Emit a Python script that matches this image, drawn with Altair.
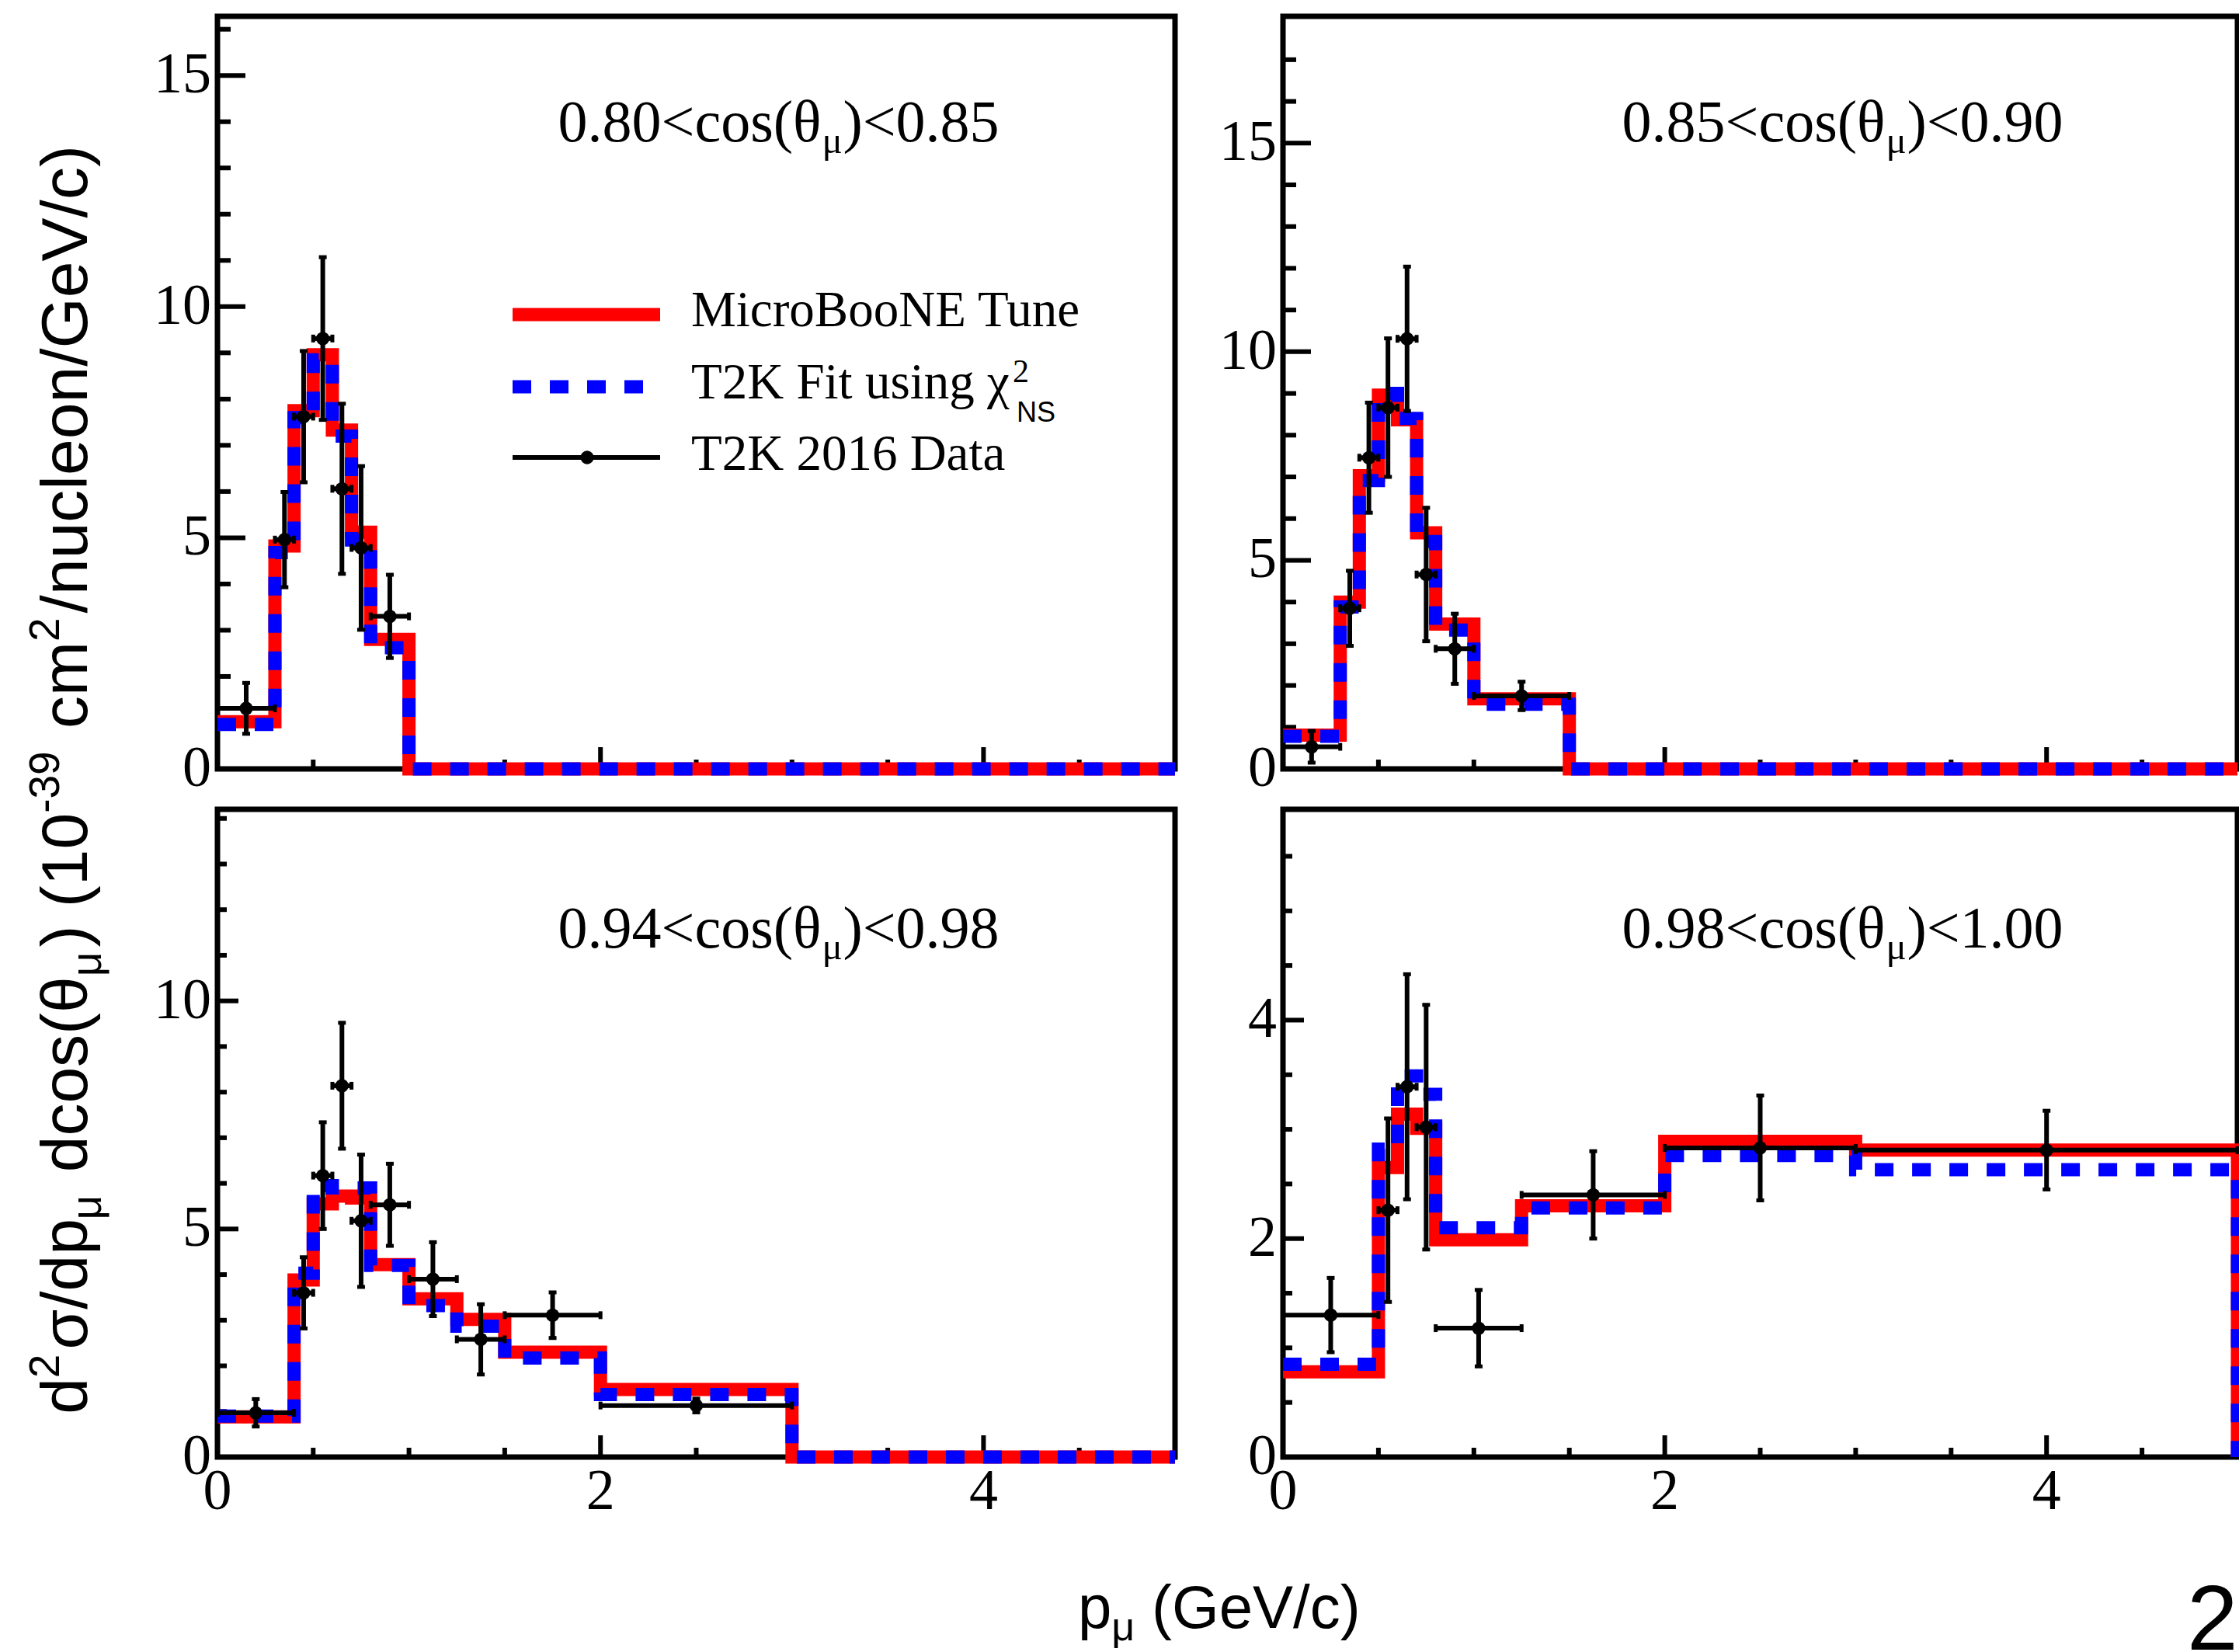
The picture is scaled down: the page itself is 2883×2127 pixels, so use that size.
import altair as alt
import pandas as pd

# ---------------- values ----------------
P_MAX = 5.0

# panel A : 0.80 < cos < 0.85
a_edges = [0.0, 0.3, 0.4, 0.5, 0.6, 0.7, 0.8, 1.0]
a_tune = [1.02, 4.82, 7.75, 8.96, 7.33, 5.12, 2.80, 0.0]
a_fit = [0.96, 4.68, 7.60, 8.85, 7.20, 4.95, 2.62, 0.0]
a_dlo = [0.0, 0.3, 0.4, 0.5, 0.6, 0.7, 0.8]
a_dhi = [0.3, 0.4, 0.5, 0.6, 0.7, 0.8, 1.0]
a_dval = [1.31, 4.96, 7.62, 9.31, 6.06, 4.78, 3.30]
a_derr = [0.55, 1.03, 1.42, 1.76, 1.84, 1.77, 0.90]

# panel B : 0.85 < cos < 0.90
b_edges = [0.0, 0.3, 0.4, 0.5, 0.6, 0.7, 0.8, 1.0, 1.5]
b_tune = [0.81, 4.00, 7.03, 8.96, 8.37, 5.66, 3.47, 1.68, 0.0]
b_fit = [0.78, 3.88, 6.91, 9.00, 8.40, 5.45, 3.33, 1.55, 0.0]
b_dlo = [0.0, 0.3, 0.4, 0.5, 0.6, 0.7, 0.8, 1.0]
b_dhi = [0.3, 0.4, 0.5, 0.6, 0.7, 0.8, 1.0, 1.5]
b_dval = [0.53, 3.85, 7.46, 8.66, 10.31, 4.66, 2.88, 1.75]
b_derr = [0.38, 0.90, 1.32, 1.66, 1.73, 1.60, 0.84, 0.34]

# panel C : 0.94 < cos < 0.98
c_edges = [0.0, 0.4, 0.5, 0.6, 0.7, 0.8, 1.0, 1.25, 1.5, 2.0, 3.0]
c_tune = [0.88, 3.88, 5.55, 5.72, 5.68, 4.22, 3.47, 3.02, 2.30, 1.48, 0.0]
c_fit = [0.90, 4.03, 5.95, 5.90, 5.90, 4.20, 3.32, 2.87, 2.17, 1.37, 0.0]
c_dlo = [0.0, 0.4, 0.5, 0.6, 0.7, 0.8, 1.0, 1.25, 1.5, 2.0]
c_dhi = [0.4, 0.5, 0.6, 0.7, 0.8, 1.0, 1.25, 1.5, 2.0, 3.0]
c_dval = [0.97, 3.60, 6.17, 8.14, 5.18, 5.53, 3.90, 2.58, 3.11, 1.13]
c_derr = [0.30, 0.78, 1.17, 1.38, 1.45, 0.90, 0.81, 0.77, 0.50, 0.15]

# panel D : 0.98 < cos < 1.00
d_edges = [0.0, 0.5, 0.6, 0.7, 0.8, 1.25, 2.0, 3.0]
d_tune = [0.78, 2.65, 3.14, 3.01, 1.99, 2.30, 2.89, 2.81]
d_fit = [0.85, 2.82, 3.49, 3.32, 2.10, 2.28, 2.76, 2.63]
d_dlo = [0.0, 0.5, 0.6, 0.7, 0.8, 1.25, 2.0, 3.0]
d_dhi = [0.5, 0.6, 0.7, 0.8, 1.25, 2.0, 3.0, 5.0]
d_dval = [1.30, 2.26, 3.39, 3.02, 1.18, 2.40, 2.83, 2.81]
d_derr = [0.34, 0.84, 1.03, 1.12, 0.35, 0.40, 0.48, 0.36]

# axis extents and ticks
a_ymax, b_ymax, c_ymax, d_ymax = 16.28, 18.04, 14.2, 5.93
a_ymaj = [0, 5, 10, 15]
a_ymin = [1, 2, 3, 4, 6, 7, 8, 9, 11, 12, 13, 14, 16]
b_ymaj = [0, 5, 10, 15]
b_ymin = [1, 2, 3, 4, 6, 7, 8, 9, 11, 12, 13, 14, 16, 17]
c_ymaj = [0, 5, 10]
c_ymin = [1, 2, 3, 4, 6, 7, 8, 9, 11, 12, 13, 14]
d_ymaj = [0, 2, 4]
d_ymin = [0.5, 1, 1.5, 2.5, 3, 3.5, 4.5, 5, 5.5]
x_maj = [0, 2, 4]
x_min = [0.5, 1, 1.5, 2.5, 3, 3.5, 4.5]

titles = [("0.80<cos(θ", ")<0.85"), ("0.85<cos(θ", ")<0.90"),
          ("0.94<cos(θ", ")<0.98"), ("0.98<cos(θ", ")<1.00")]
legend_labels = ["MicroBooNE Tune", "T2K Fit using χ", "T2K 2016 Data"]

SERIF = "Liberation Serif"
SANS = "Liberation Sans"
RED = "#ff0000"
BLUE = "#0000ff"

# approximate advance widths (per 1000 em) used only to place text pieces
TIMES_W = {'0': 500, '1': 500, '2': 500, '3': 500, '4': 500, '5': 500, '6': 500,
           '7': 500, '8': 500, '9': 500, '.': 250, '<': 564, 'c': 444, 'o': 500,
           's': 389, '(': 333, ')': 333, 'θ': 500, 'μ': 550}
ARIAL_W = {'d': 556, 'σ': 600, '/': 278, 'p': 556, ' ': 278, 'c': 500, 'o': 556,
           's': 500, '(': 333, 'θ': 556, ')': 333, '1': 556, '0': 556, '-': 333,
           '3': 556, '9': 556, 'm': 833, '2': 556, 'n': 556, 'u': 556, 'l': 222,
           'e': 556, 'G': 778, 'V': 667, 'μ': 577}


def wid(s, size, table):
    return sum(table.get(ch, 556) for ch in s) / 1000.0 * size


ONE = pd.DataFrame({"k": [0]})


def txt(text, x, y, size, font, align="left", baseline="alphabetic", angle=0):
    return alt.Chart(ONE).mark_text(
        text=text, font=font, fontSize=size, align=align, baseline=baseline,
        angle=angle, color="black"
    ).encode(x=alt.value(x), y=alt.value(y))


def panel(edges, tune, fit, dlo, dhi, dval, derr, ymax, xr, yr,
          ymaj, ymin, ylen, xlen, xlabels):
    xs = alt.Scale(domain=[0, P_MAX], range=xr, nice=False, zero=False)
    ys = alt.Scale(domain=[0, ymax], range=yr, nice=False, zero=False)

    def X(f):
        return alt.X(f, type="quantitative", scale=xs, axis=None)

    def Y(f):
        return alt.Y(f, type="quantitative", scale=ys, axis=None)

    out = []
    frame = pd.DataFrame({"x0": [0.0], "x1": [P_MAX], "y0": [0.0], "y1": [ymax]})
    out.append(alt.Chart(frame).mark_rect(fillOpacity=0, stroke="black", strokeWidth=7)
               .encode(x=X("x0"), x2="x1", y=Y("y0"), y2="y1"))

    # y ticks (inside)
    for vals, ln in ((ymaj, ylen[0]), (ymin, ylen[1])):
        df = pd.DataFrame({"v": vals, "z": [0.0] * len(vals)})
        out.append(alt.Chart(df).mark_rule(color="black", strokeWidth=6, x2Offset=ln)
                   .encode(x=X("z"), x2="z", y=Y("v"), y2="v"))
    # x ticks (inside)
    for vals, ln in ((x_maj, xlen[0]), (x_min, xlen[1])):
        df = pd.DataFrame({"v": vals, "z": [0.0] * len(vals)})
        out.append(alt.Chart(df).mark_rule(color="black", strokeWidth=6, y2Offset=-ln)
                   .encode(x=X("v"), x2="v", y=Y("z"), y2="z"))
    # y labels
    df = pd.DataFrame({"v": ymaj, "z": [0.0] * len(ymaj), "t": [str(v) for v in ymaj]})
    out.append(alt.Chart(df).mark_text(font=SERIF, fontSize=74, align="right",
                                       baseline="middle", dx=-8, color="black")
               .encode(x=X("z"), y=Y("v"), text="t:N"))
    if xlabels:
        df = pd.DataFrame({"v": x_maj, "z": [0.0] * len(x_maj), "t": [str(v) for v in x_maj]})
        out.append(alt.Chart(df).mark_text(font=SERIF, fontSize=74, align="center",
                                           baseline="top", dy=9, color="black")
                   .encode(x=X("v"), y=Y("z"), text="t:N"))

    # histograms
    for vals, col, dash in ((tune, RED, None), (fit, BLUE, [24, 24])):
        hx = list(edges) + [P_MAX, P_MAX]
        hy = list(vals) + [vals[-1], 0.0]
        df = pd.DataFrame({"x": hx, "y": hy, "i": list(range(len(hx)))})
        kw = dict(interpolate="step-after", color=col, strokeWidth=17,
                  strokeJoin="miter", strokeCap="butt")
        if dash:
            kw["strokeDash"] = dash
        out.append(alt.Chart(df).mark_line(**kw)
                   .encode(x=X("x"), y=Y("y"), order="i:Q"))

    # data with error bars
    xc = [(a + b) / 2 for a, b in zip(dlo, dhi)]
    df = pd.DataFrame({"xc": xc, "lo": dlo, "hi": dhi, "y": dval,
                       "ylo": [v - e for v, e in zip(dval, derr)],
                       "yhi": [v + e for v, e in zip(dval, derr)]})
    base = alt.Chart(df)
    out.append(base.mark_rule(color="black", strokeWidth=6)
               .encode(x=X("xc"), y=Y("ylo"), y2="yhi"))
    out.append(base.mark_rule(color="black", strokeWidth=6)
               .encode(x=X("lo"), x2="hi", y=Y("y")))
    for f in ("ylo", "yhi"):
        out.append(base.mark_rule(color="black", strokeWidth=5, xOffset=-5, x2Offset=5)
                   .encode(x=X("xc"), x2="xc", y=Y(f)))
    for f in ("lo", "hi"):
        out.append(base.mark_rule(color="black", strokeWidth=5, yOffset=-5, y2Offset=5)
                   .encode(x=X(f), y=Y("y"), y2="y"))
    out.append(base.mark_circle(size=300, color="black", opacity=1)
               .encode(x=X("xc"), y=Y("y")))
    return out


LX, RX = [280, 1513], [1652, 2881]
TY, BY = [990, 21], [1876, 1042]

layers = []
layers += panel(a_edges, a_tune, a_fit, a_dlo, a_dhi, a_dval, a_derr, a_ymax, LX, TY,
                a_ymaj, a_ymin, (36, 17), (28, 12), False)
layers += panel(b_edges, b_tune, b_fit, b_dlo, b_dhi, b_dval, b_derr, b_ymax, RX, TY,
                b_ymaj, b_ymin, (36, 17), (28, 12), False)
layers += panel(c_edges, c_tune, c_fit, c_dlo, c_dhi, c_dval, c_derr, c_ymax, LX, BY,
                c_ymaj, c_ymin, (27, 12), (28, 12), True)
layers += panel(d_edges, d_tune, d_fit, d_dlo, d_dhi, d_dval, d_derr, d_ymax, RX, BY,
                d_ymaj, d_ymin, (27, 12), (28, 12), True)

# panel titles
TF, TS = 76, 49
for (m1, m2), (x0, yb) in zip(titles, [(717, 182), (2087, 182), (717, 1220), (2087, 1220)]):
    sx = x0 + wid(m1, TF, TIMES_W)
    layers.append(txt(m1, sx, yb, TF, SERIF, align="right"))
    layers.append(txt("μ", sx + 1, yb + 15, TS, SERIF))
    layers.append(txt(m2, sx + 1 + wid("μ", TS, TIMES_W), yb, TF, SERIF))

# legend
layers.append(alt.Chart(ONE).mark_rule(color=RED, strokeWidth=17)
              .encode(x=alt.value(660), x2=alt.value(850), y=alt.value(405)))
layers.append(alt.Chart(ONE).mark_rule(color=BLUE, strokeWidth=17, strokeDash=[24, 24])
              .encode(x=alt.value(660), x2=alt.value(850), y=alt.value(498)))
layers.append(alt.Chart(ONE).mark_rule(color="black", strokeWidth=6)
              .encode(x=alt.value(660), x2=alt.value(850), y=alt.value(589)))
layers.append(alt.Chart(ONE).mark_circle(size=300, color="black", opacity=1)
              .encode(x=alt.value(756), y=alt.value(589)))
layers.append(txt(legend_labels[0], 890, 420, 65, SERIF))
layers.append(txt(legend_labels[1], 890, 513, 65, SERIF))
layers.append(txt("2", 1304, 492, 42, SERIF))
layers.append(txt("NS", 1309, 543, 36, SANS))
layers.append(txt(legend_labels[2], 890, 605, 65, SERIF))

# y-axis title (rotated, built from pieces; leading blanks advanced explicitly)
YF, YS, GAP = 84, 55, 6
BASEX = 112
pieces = [("d", "n"), ("2", "sup"), ("σ/dp", "n"), ("μ", "sub"), (" dcos(θ", "n"),
          ("μ", "sub"), (") (10", "n"), ("-39", "sup"), (" cm", "n"), ("2", "sup"),
          ("/nucleon/GeV/c)", "n")]
total = 0.0
for s, kind in pieces:
    total += wid(s, YF, ARIAL_W) if kind == "n" else wid(s, YS, ARIAL_W) + GAP
ypos = 1004.0 + total / 2
for s, kind in pieces:
    if kind == "n":
        lead = len(s) - len(s.lstrip(" "))
        layers.append(txt(s.lstrip(" "), BASEX, ypos - wid(" " * lead, YF, ARIAL_W),
                          YF, SANS, angle=270))
        ypos -= wid(s, YF, ARIAL_W)
    else:
        xx = BASEX - 36 if kind == "sup" else BASEX + 18
        layers.append(txt(s, xx, ypos, YS, SANS, angle=270))
        ypos -= wid(s, YS, ARIAL_W) + GAP

# x-axis title
XF, XS = 78, 52
px0 = 1388
layers.append(txt("p", px0, 2096, XF, SANS))
layers.append(txt("μ", px0 + wid("p", XF, ARIAL_W), 2112, XS, SANS))
layers.append(txt("(GeV/c)", px0 + wid("p", XF, ARIAL_W) + wid("μ", XS, ARIAL_W)
                  + wid(" ", XF, ARIAL_W), 2096, XF, SANS))

# stray page number at the corner
layers.append(txt("2", 2816, 2124, 118, SANS))

chart = alt.layer(*layers).resolve_scale(x="independent", y="independent").properties(
    width=2883, height=2127, autosize=alt.AutoSizeParams(type="none"), padding=0,
    background="white"
).configure_view(stroke="transparent")

chart.save("out.html", embed_options={"renderer": "svg", "actions": False})
